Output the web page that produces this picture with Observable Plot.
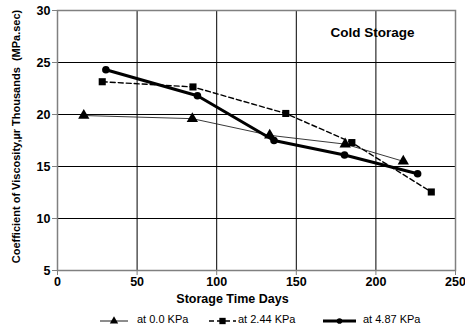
<!DOCTYPE html>
<html>
<head>
<meta charset="utf-8">
<script src="https://cdn.jsdelivr.net/npm/d3@7"></script>
<script src="https://cdn.jsdelivr.net/npm/@observablehq/plot@0.6"></script>
<style>
  html, body { margin: 0; padding: 0; background: #fff; }
  #chart { width: 465px; height: 329px; font-family: "Liberation Sans", Arial, sans-serif; }
  .legend { position: relative; height: 19px; font-size: 11px; color: #000; }
  .legend svg { position: absolute; top: 5px; display: block; }
  .legend span { position: absolute; top: 3px; white-space: nowrap; }
</style>
</head>
<body>
<div id="chart"></div>
<script>
const days0 = [16.5, 84.7, 133.3, 180.7, 217.2];
const visc0 = [19.9, 19.6, 18.0, 17.15, 15.5];
const days1 = [28.1, 85.1, 143.4, 184.9, 234.8];
const visc1 = [23.15, 22.65, 20.1, 17.3, 12.55];
const days2 = [30.4, 87.9, 136.0, 180.3, 226.2];
const visc2 = [24.3, 21.8, 17.5, 16.1, 14.3];
const seriesNames = ["at 0.0 KPa", "at 2.44 KPa", "at 4.87 KPa"];
const xTicks = [0, 50, 100, 150, 200, 250];
const yTicks = [5, 10, 15, 20, 25, 30];

const toRows = (xs, ys, s) => xs.map((x, i) => ({x, y: ys[i], s}));
const s0 = toRows(days0, visc0, seriesNames[0]);
const s1 = toRows(days1, visc1, seriesNames[1]);
const s2 = toRows(days2, visc2, seriesNames[2]);

const chart = Plot.plot({
  width: 465,
  height: 310,
  marginLeft: 57,
  marginRight: 10,
  marginTop: 10,
  marginBottom: 40,
  style: {fontFamily: "'Liberation Sans', Arial, sans-serif", fontSize: "11px", background: "#fff", color: "#000"},
  x: {domain: [0, 250], ticks: xTicks},
  y: {domain: [5, 30], ticks: yTicks},
  marks: [
    Plot.gridX(xTicks, {stroke: "#000", strokeOpacity: 1, strokeWidth: 1}),
    Plot.gridY(yTicks, {stroke: "#000", strokeOpacity: 1, strokeWidth: 1}),
    Plot.frame({stroke: "#808080", strokeWidth: 1.5}),
    Plot.axisX(xTicks, {tickSize: 5, tickPadding: 2, fontWeight: "bold", fontSize: 12.5, stroke: "#808080", label: null}),
    Plot.axisY(yTicks, {tickSize: 5, tickPadding: 2, fontWeight: "bold", fontSize: 12.5, stroke: "#808080", label: null}),
    Plot.text(["Coefficient of Viscosity,\u00b5r Thousands  (MPa.sec)"], {frameAnchor: "left", textAnchor: "middle", dx: -41, dy: -4, rotate: -90, fontWeight: "bold", fontSize: 11}),
    Plot.text(["Storage Time Days"], {frameAnchor: "bottom", dx: -24, dy: 32, fontWeight: "bold", fontSize: 12.5}),
    Plot.line(s0, {x: "x", y: "y", stroke: "#222", strokeWidth: 0.9}),
    Plot.dot(s0, {x: "x", y: "y", symbol: "triangle", r: 4.2, fill: "#000", stroke: "none"}),
    Plot.line(s1, {x: "x", y: "y", stroke: "#000", strokeWidth: 1.4, strokeDasharray: "5,3"}),
    Plot.dot(s1, {x: "x", y: "y", symbol: "square", r: 4, fill: "#000", stroke: "none"}),
    Plot.line(s2, {x: "x", y: "y", stroke: "#000", strokeWidth: 3}),
    Plot.dot(s2, {x: "x", y: "y", symbol: "circle", r: 3.8, fill: "#000", stroke: "none"}),
    Plot.text(["Cold Storage"], {frameAnchor: "top-right", dx: -83, dy: 17, fontWeight: "bold", fontSize: 13.5, textAnchor: "middle"})
  ]
});

const root = document.getElementById("chart");
root.appendChild(chart);

// legend below the SVG
const legend = document.createElement("div");
legend.className = "legend";
const sym = ["triangle", "square", "circle"];
const dash = [null, "5,3", null];
const sw = [0.9, 1.4, 3];
const lineX = [[100, 128], [209, 236], [323, 356]];
const textX = [137, 238, 363];
seriesNames.forEach((name, i) => {
  const [a, b] = lineX[i];
  const w = b - a;
  const svg = d3.create("svg").attr("width", w).attr("height", 12).style("left", a + "px");
  svg.append("line").attr("x1", 0).attr("x2", w).attr("y1", 6).attr("y2", 6)
    .attr("stroke", "#000").attr("stroke-width", sw[i]).attr("stroke-dasharray", dash[i]);
  const symType = {triangle: d3.symbolTriangle, square: d3.symbolSquare, circle: d3.symbolCircle}[sym[i]];
  const size = {triangle: 30, square: 40, circle: 25}[sym[i]];
  svg.append("path").attr("d", d3.symbol(symType, size)()).attr("transform", `translate(${w / 2},6)`).attr("fill", "#000");
  legend.appendChild(svg.node());
  const label = document.createElement("span");
  label.textContent = name;
  label.style.left = textX[i] + "px";
  legend.appendChild(label);
});
root.appendChild(legend);
</script>
</body>
</html>
